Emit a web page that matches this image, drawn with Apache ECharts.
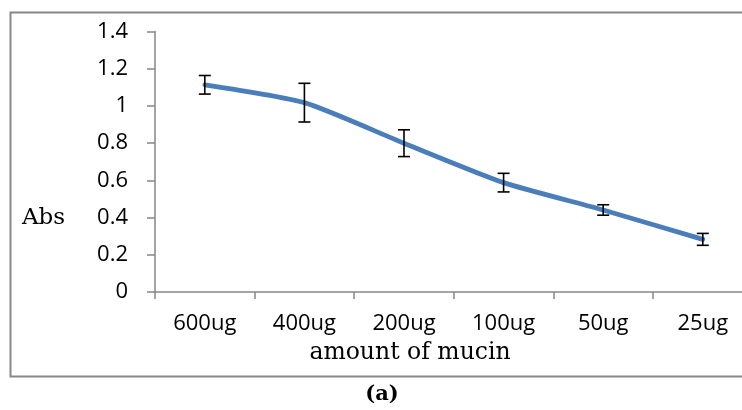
<!DOCTYPE html>
<html>
<head>
<meta charset="utf-8">
<script src="https://cdn.jsdelivr.net/npm/echarts@6/dist/echarts.min.js"></script>
<style>
html,body{margin:0;padding:0;background:#fff;}
#chart{width:742px;height:410px;}
</style>
</head>
<body>
<div id="chart"></div>
<script>
var categories = ['600ug', '400ug', '200ug', '100ug', '50ug', '25ug'];
var absValues = [1.114, 1.018, 0.800, 0.588, 0.441, 0.283];
var errValues = [0.050, 0.104, 0.072, 0.050, 0.028, 0.032];
var yTicks = { min: 0, max: 1.4, interval: 0.2 };
var yTitle = 'Abs';
var xTitle = 'amount of mucin';
var panelLabel = '(a)';

var chart = echarts.init(document.getElementById('chart'), null, { renderer: 'canvas' });

var errData = categories.map(function (c, i) {
  return [i, absValues[i] - errValues[i], absValues[i] + errValues[i]];
});

var axisGray = '#868686';
var sansFont = '"Open Sans", "Noto Sans", sans-serif';
var serifFont = '"DejaVu Serif", "Liberation Serif", serif';

chart.setOption({
  animation: false,
  backgroundColor: '#ffffff',
  grid: { left: 155, top: 31.6, width: 597.6, bottom: 118, containLabel: false, outerBoundsMode: 'none' },
  xAxis: {
    type: 'category',
    data: categories,
    boundaryGap: true,
    axisLine: { show: true, lineStyle: { color: axisGray, width: 1.5 } },
    axisTick: { show: true, alignWithLabel: false, length: 7, lineStyle: { color: axisGray, width: 1.5 } },
    axisLabel: { color: '#000', fontFamily: sansFont, fontSize: 22, margin: 21 },
    splitLine: { show: false }
  },
  yAxis: {
    type: 'value',
    min: yTicks.min,
    max: yTicks.max,
    interval: yTicks.interval,
    axisLine: { show: true, lineStyle: { color: axisGray, width: 1.5 } },
    axisTick: { show: true, inside: false, length: 8, lineStyle: { color: axisGray, width: 1.5 } },
    axisLabel: { color: '#000', fontFamily: sansFont, fontSize: 22, margin: 27 },
    splitLine: { show: false }
  },
  graphic: [
    {
      type: 'rect',
      shape: { x: 10.5, y: 12.5, width: 760, height: 364 },
      style: { fill: 'none', stroke: '#878787', lineWidth: 2 },
      silent: true, z: -10
    },
    {
      type: 'text', x: 22, y: 218,
      style: { text: yTitle, font: '23px ' + serifFont, fill: '#000', verticalAlign: 'middle' }
    },
    {
      type: 'text', x: 410, y: 353,
      style: { text: xTitle, font: '23.5px ' + serifFont, fill: '#000', align: 'center', verticalAlign: 'middle' }
    },
    {
      type: 'text', x: 382, y: 395,
      style: { text: panelLabel, font: 'bold 21px ' + serifFont, fill: '#000', align: 'center', verticalAlign: 'middle' }
    }
  ],
  series: [
    {
      type: 'line',
      data: absValues,
      smooth: 0.2,
      showSymbol: false,
      symbol: 'none',
      lineStyle: { color: '#4A7EBB', width: 4.8, cap: 'round', join: 'round' },
      z: 2
    },
    {
      type: 'custom',
      data: errData,
      z: 5,
      renderItem: function (params, api) {
        var x = api.value(0);
        var lo = api.coord([x, api.value(1)]);
        var hi = api.coord([x, api.value(2)]);
        var cap = 6;
        var style = { stroke: '#000', lineWidth: 1.6 };
        return {
          type: 'group',
          children: [
            { type: 'line', shape: { x1: hi[0], y1: hi[1], x2: lo[0], y2: lo[1] }, style: style },
            { type: 'line', shape: { x1: hi[0] - cap, y1: hi[1], x2: hi[0] + cap, y2: hi[1] }, style: style },
            { type: 'line', shape: { x1: lo[0] - cap, y1: lo[1], x2: lo[0] + cap, y2: lo[1] }, style: style }
          ]
        };
      }
    }
  ]
});
</script>
</body>
</html>
